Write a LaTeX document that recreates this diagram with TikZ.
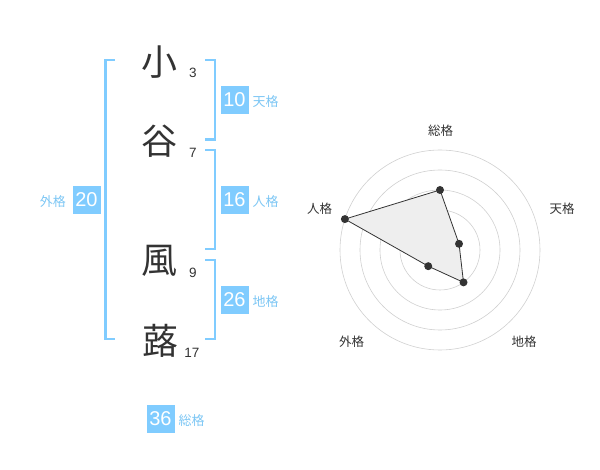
\documentclass[tikz,border=0pt]{standalone}
\usepackage{fontspec}
\setmainfont{Liberation Sans}
\newfontfamily\cjk{Noto Sans CJK JP}
\definecolor{kakublue}{HTML}{80CCFF}
\definecolor{labelblue}{HTML}{7CC6F4}
\definecolor{inkgrey}{HTML}{333333}
\definecolor{ringgrey}{HTML}{D0D0D0}
\definecolor{areagrey}{HTML}{EEEEEE}
\tikzset{
  kanji/.style={inner sep=0pt, text=inkgrey, font=\cjk\fontsize{36}{36}\selectfont},
  strokes/.style={inner sep=0pt, text=inkgrey, font=\fontsize{13.5}{13.5}\selectfont},
  kakubox/.style={fill=kakublue, text=white, minimum size=28pt, inner sep=0pt, font=\fontsize{20}{20}\selectfont},
  kakuname/.style={inner sep=0pt, text=labelblue, font=\cjk\fontsize{13}{13}\selectfont},
  bracket/.style={draw=kakublue, line width=2.2pt},
  ring/.style={draw=ringgrey, line width=0.6pt},
  axisname/.style={inner sep=0pt, text=inkgrey, font=\cjk\fontsize{12.5}{12.5}\selectfont},
  dot/.style={circle, fill=inkgrey, inner sep=0pt, minimum size=8pt},
}
\begin{document}
\begin{tikzpicture}[x=1pt, y=-1pt]
            \useasboundingbox (0,0) rectangle (600,470);
            % name
            \node [kanji] (k1) at (159,62) {小};
            \node [kanji] (k2) at (159,141) {谷};
            \node [kanji] (k3) at (159,261) {風};
            \node [kanji] (k4) at (160,341) {蕗};
            \node [strokes] (s1) at (193,73) {3};
            \node [strokes] (s2) at (193,153) {7};
            \node [strokes] (s3) at (193,273) {9};
            \node [strokes] (s4) at (192,353) {17};
            % brackets
            \draw[bracket] (115,60) -- (105.5,60) -- (105.5,339) -- (115,339);
            \draw[bracket] (205,60) -- (215,60) -- (215,139.5) -- (205,139.5);
            \draw[bracket] (205,150) -- (215,150) -- (215,249) -- (205,249);
            \draw[bracket] (205,260) -- (215,260) -- (215,339) -- (205,339);
            % scores
            \node [kakubox] (ten) at (234.5,100) {10};
            \node [kakuname, anchor=west] (tenname) at (252.5,102) {天格};
            \node [kakubox] (jin) at (234.5,200) {16};
            \node [kakuname, anchor=west] (jinname) at (252.5,202) {人格};
            \node [kakubox] (chi) at (234.5,300) {26};
            \node [kakuname, anchor=west] (chiname) at (252.5,302) {地格};
            \node [kakubox] (gai) at (86.5,200) {20};
            \node [kakuname, anchor=east] (gainame) at (66,202) {外格};
            \node [kakubox] (sou) at (160.5,419) {36};
            \node [kakuname, anchor=west] (souname) at (178.5,421) {総格};
            % radar
            \begin{scope}[shift={(440,250)}, y=1pt]
                \foreach \r in {20,40,60,80,100}
                    \draw[ring] (0,0) circle (\r);
                \fill[ringgrey] (0,0) circle (3.5);
                \coordinate (rsou) at (90:60);
                \coordinate (rten) at (18:20);
                \coordinate (rchi) at (-54:40);
                \coordinate (rgai) at (-126:20);
                \coordinate (rjin) at (162:100);
                \draw[fill=areagrey, draw=inkgrey, line width=0.8pt]
                    (rsou) -- (rten) -- (rchi) -- (rgai) -- (rjin) -- cycle;
                \foreach \p in {rsou,rten,rchi,rgai,rjin}
                    \node [dot] at (\p) {};
                \node [axisname] (asou) at (0.5,119.5) {総格};
                \node [axisname] (aten) at (122,41.5) {天格};
                \node [axisname] (achi) at (84,-92) {地格};
                \node [axisname] (agai) at (-88.5,-92) {外格};
                \node [axisname] (ajin) at (-120.5,41.5) {人格};
            \end{scope}
        \end{tikzpicture}
\end{document}
